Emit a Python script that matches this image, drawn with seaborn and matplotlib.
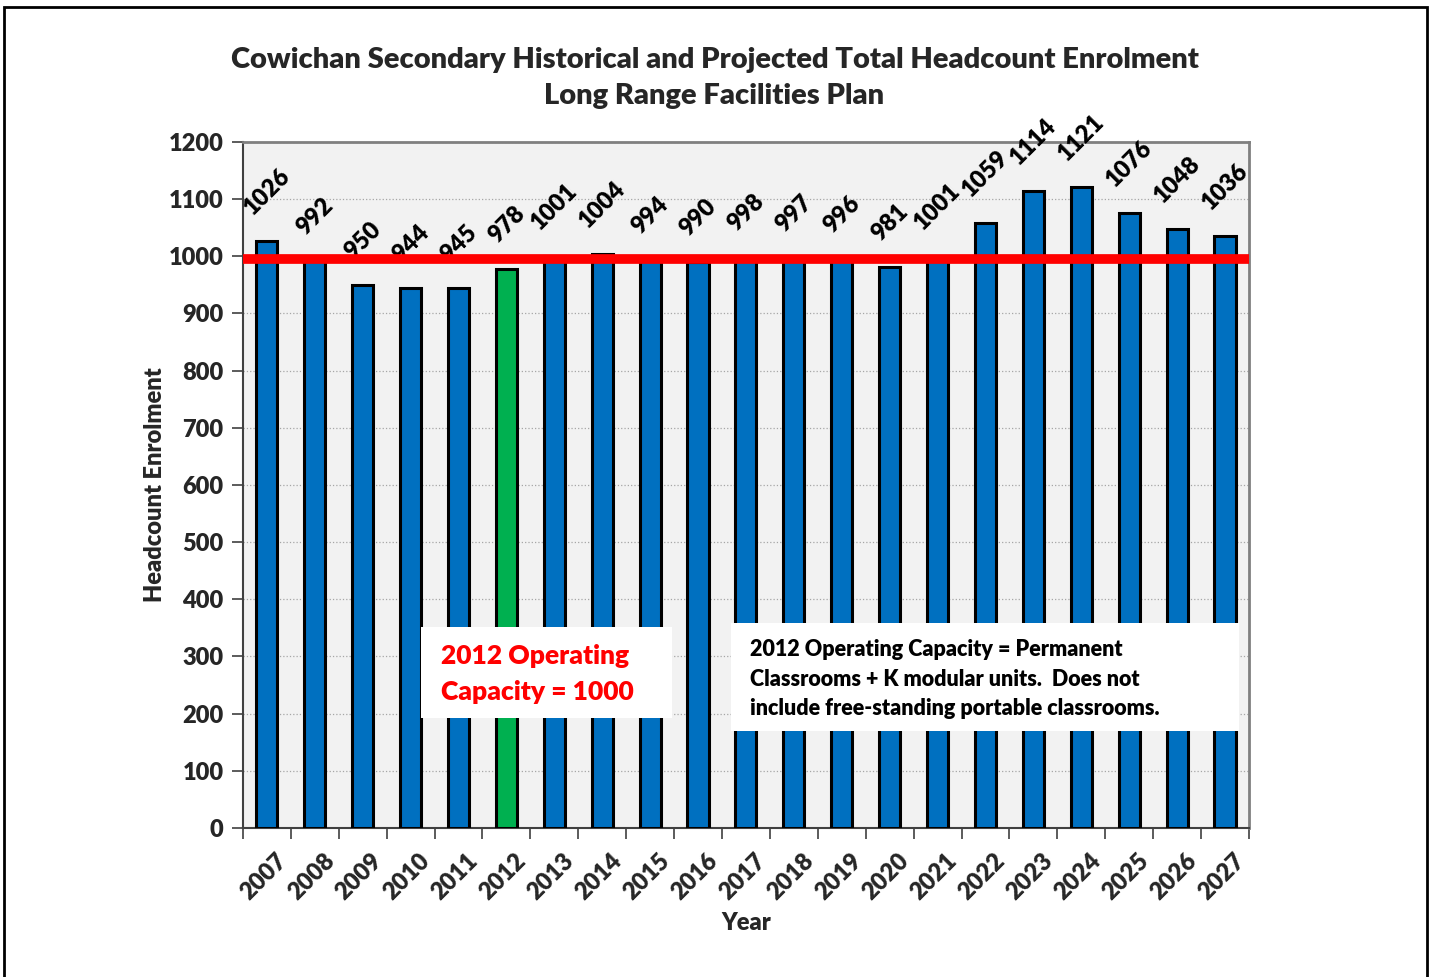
import numpy as np
import pandas as pd
import matplotlib
matplotlib.use("Agg")
import matplotlib.pyplot as plt
import seaborn as sns
from matplotlib.patches import Rectangle
from matplotlib.ticker import MultipleLocator

# enrolment data
years = [str(y) for y in range(2007, 2028)]
enrolment = [1026, 992, 950, 944, 945, 978, 1001, 1004, 994, 990, 998,
             997, 996, 981, 1001, 1059, 1114, 1121, 1076, 1048, 1036]
capacity = 995
highlight_year = "2012"

sns.set_theme(style="white")
plt.rcParams['font.family'] = ['Lato', 'DejaVu Sans']
W = 800  # heavy weight, closer to Calibri bold

df = pd.DataFrame({'Year': years, 'Enrolment': enrolment})
palette = ['#00B050' if y == highlight_year else '#0070C0' for y in years]

fig = plt.figure(figsize=(14.29, 9.77), dpi=100)
ax = fig.add_axes([0.170, 0.1525, 0.704, 0.7022])
ax.set_facecolor('#F2F2F2')

sns.barplot(data=df, x='Year', y='Enrolment', hue='Year', palette=palette,
            legend=False, width=0.44, saturation=1, edgecolor='black',
            linewidth=2.2, ax=ax, zorder=3)

ax.set_ylim(0, 1200)
ax.set_xlim(-0.5, len(years) - 0.5)
ax.yaxis.set_major_locator(MultipleLocator(100))
ax.grid(axis='y', color='#A6A6A6', linestyle=':', linewidth=0.9, zorder=0)
ax.set_axisbelow(True)

# data labels
for i, v in enumerate(enrolment):
    ax.annotate(str(v), (i, v), xytext=(0, 16), textcoords='offset points',
                ha='center', va='bottom', rotation=45, fontsize=17,
                fontweight=W, color='black', zorder=4)

# capacity line
ax.axhline(capacity, color='#FF0000', linewidth=7, zorder=5)

# spines and ticks
for s in ['top', 'right']:
    ax.spines[s].set_color('#808080')
    ax.spines[s].set_linewidth(2)
for s in ['left', 'bottom']:
    ax.spines[s].set_color('#404040')
    ax.spines[s].set_linewidth(1.5)

# year labels, rotated and nudged right like the Excel original
ax.set_xticks(np.arange(len(years)))
ax.set_xticklabels([])
for i, y in enumerate(years):
    ax.annotate(y, (i, 0), xycoords=('data', 'axes fraction'),
                xytext=(11.5, -21), textcoords='offset points',
                ha='right', va='center', rotation=45, rotation_mode='anchor',
                fontsize=17, fontweight=W, annotation_clip=False)
ax.set_xticks(np.arange(len(years) + 1) - 0.5, minor=True)
ax.tick_params(axis='x', which='major', length=0)
ax.tick_params(axis='x', which='minor', length=8, width=1.2, color='#404040',
               direction='out', bottom=True)
ax.tick_params(axis='y', length=8, width=1.2, color='#404040',
               direction='out', left=True, labelsize=17, pad=6)
for lab in ax.get_yticklabels():
    lab.set_fontweight(W)

ax.set_xlabel('Year', fontsize=17, fontweight=W)
ax.xaxis.set_label_coords(0.5, -0.122)
ax.set_ylabel('Headcount Enrolment', fontsize=17, fontweight=W)
ax.yaxis.set_label_coords(-0.076, 0.5)

fig.text(0.5, 1 - 78 / 977, 'Cowichan Secondary Historical and Projected Total Headcount Enrolment\n'
         'Long Range Facilities Plan', ha='center', va='center', fontsize=21,
         fontweight=W, linespacing=1.5)

# text boxes
fig.patches.append(Rectangle((421 / 1429, 1 - 718 / 977), 251 / 1429, 91 / 977,
                             transform=fig.transFigure, facecolor='white',
                             edgecolor='none', zorder=10))
fig.text(441 / 1429, 1 - 674 / 977, '2012 Operating\nCapacity = 1000',
         ha='left', va='center', fontsize=19, fontweight=W,
         color='#FF0000', linespacing=1.55, zorder=11)

fig.patches.append(Rectangle((731 / 1429, 1 - 731 / 977), 508 / 1429, 108 / 977,
                             transform=fig.transFigure, facecolor='white',
                             edgecolor='none', zorder=10))
fig.text(750 / 1429, 1 - 679 / 977,
         '2012 Operating Capacity = Permanent\n'
         'Classrooms + K modular units.  Does not\n'
         'include free-standing portable classrooms.',
         ha='left', va='center', fontsize=15.5, fontweight=W,
         color='black', linespacing=1.52, zorder=11)

# outer frame
fig.patches.append(Rectangle((4 / 1429, -0.01), 1423 / 1429, 1 - 7 / 977 + 0.01,
                             transform=fig.transFigure, facecolor='none',
                             edgecolor='black', linewidth=2, zorder=12))

fig.savefig('out.png', dpi=100)
